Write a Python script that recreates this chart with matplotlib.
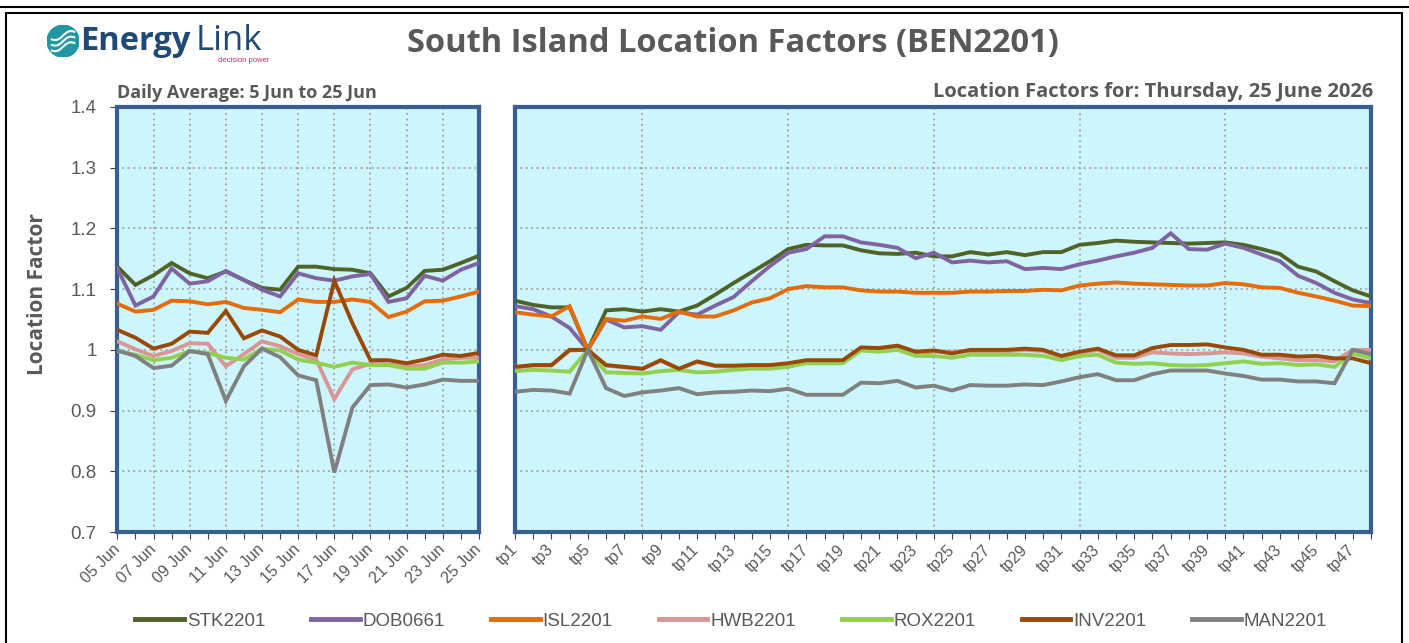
import numpy as np
import matplotlib.pyplot as plt
from matplotlib.lines import Line2D
from matplotlib.patches import Rectangle, Circle

# daily averages, 5 Jun to 25 Jun
days = ['%02d Jun' % d for d in range(5, 26)]
stk_daily = [1.137, 1.107, 1.123, 1.143, 1.126, 1.118, 1.129, 1.115, 1.102, 1.099, 1.137,
             1.137, 1.133, 1.132, 1.126, 1.088, 1.102, 1.130, 1.132, 1.143, 1.155]
dob_daily = [1.134, 1.073, 1.088, 1.134, 1.109, 1.113, 1.130, 1.115, 1.099, 1.088, 1.126,
             1.118, 1.114, 1.121, 1.125, 1.079, 1.085, 1.122, 1.114, 1.132, 1.143]
isl_daily = [1.076, 1.063, 1.066, 1.081, 1.080, 1.075, 1.079, 1.069, 1.066, 1.062, 1.083,
             1.079, 1.079, 1.083, 1.079, 1.054, 1.063, 1.080, 1.081, 1.088, 1.096]
hwb_daily = [1.014, 1.001, 0.990, 0.998, 1.011, 1.010, 0.973, 0.993, 1.014, 1.006, 0.993,
             0.984, 0.919, 0.968, 0.977, 0.976, 0.973, 0.975, 0.984, 0.987, 0.987]
rox_daily = [0.998, 0.992, 0.983, 0.987, 0.998, 0.995, 0.987, 0.984, 1.002, 0.999, 0.984,
             0.979, 0.972, 0.979, 0.975, 0.975, 0.969, 0.969, 0.979, 0.979, 0.981]
inv_daily = [1.033, 1.020, 1.002, 1.010, 1.030, 1.028, 1.064, 1.019, 1.032, 1.022, 1.000,
             0.991, 1.114, 1.044, 0.983, 0.983, 0.978, 0.984, 0.992, 0.990, 0.995]
man_daily = [0.999, 0.990, 0.970, 0.974, 0.998, 0.993, 0.916, 0.973, 1.002, 0.988, 0.958,
             0.950, 0.798, 0.905, 0.942, 0.943, 0.938, 0.943, 0.951, 0.949, 0.949]

# trading periods for 25 June
periods = ['tp%d' % p for p in range(1, 49)]
stk_tp = [1.081, 1.074, 1.070, 1.070, 1.000, 1.065, 1.067, 1.063, 1.067, 1.063, 1.073, 1.091,
          1.110, 1.128, 1.146, 1.166, 1.173, 1.172, 1.172, 1.164, 1.159, 1.158, 1.160, 1.154,
          1.154, 1.161, 1.157, 1.161, 1.156, 1.161, 1.161, 1.173, 1.176, 1.180, 1.178, 1.177,
          1.176, 1.175, 1.176, 1.177, 1.173, 1.166, 1.158, 1.137, 1.129, 1.113, 1.098, 1.088]
dob_tp = [1.072, 1.067, 1.055, 1.036, 1.000, 1.050, 1.037, 1.039, 1.033, 1.062, 1.058, 1.073,
          1.087, 1.113, 1.138, 1.160, 1.166, 1.187, 1.187, 1.177, 1.173, 1.168, 1.151, 1.160,
          1.144, 1.147, 1.144, 1.146, 1.133, 1.135, 1.133, 1.141, 1.147, 1.154, 1.160, 1.168,
          1.192, 1.166, 1.165, 1.175, 1.168, 1.157, 1.146, 1.122, 1.110, 1.094, 1.083, 1.077]
isl_tp = [1.062, 1.058, 1.055, 1.072, 1.000, 1.051, 1.048, 1.055, 1.051, 1.063, 1.055, 1.055,
          1.065, 1.078, 1.085, 1.100, 1.105, 1.103, 1.103, 1.098, 1.096, 1.096, 1.094, 1.094,
          1.094, 1.096, 1.096, 1.097, 1.097, 1.099, 1.098, 1.106, 1.109, 1.111, 1.109, 1.108,
          1.107, 1.106, 1.106, 1.110, 1.108, 1.103, 1.102, 1.094, 1.088, 1.081, 1.073, 1.072]
hwb_tp = [0.971, 0.974, 0.974, 0.999, 1.000, 0.974, 0.971, 0.968, 0.982, 0.968, 0.980, 0.973,
          0.972, 0.973, 0.973, 0.976, 0.981, 0.981, 0.981, 1.002, 1.001, 1.005, 0.995, 0.997,
          0.997, 0.998, 0.998, 0.998, 1.000, 0.998, 0.988, 0.995, 1.000, 0.987, 0.987, 0.996,
          0.994, 0.993, 0.994, 0.996, 0.994, 0.989, 0.986, 0.983, 0.983, 0.981, 1.000, 1.000]
rox_tp = [0.965, 0.967, 0.966, 0.964, 1.000, 0.963, 0.962, 0.961, 0.965, 0.967, 0.963, 0.964,
          0.967, 0.969, 0.969, 0.972, 0.978, 0.978, 0.978, 0.999, 0.997, 1.000, 0.990, 0.990,
          0.987, 0.992, 0.992, 0.992, 0.992, 0.990, 0.983, 0.990, 0.992, 0.979, 0.977, 0.978,
          0.975, 0.974, 0.975, 0.978, 0.981, 0.977, 0.978, 0.975, 0.976, 0.972, 0.994, 0.986]
inv_tp = [0.972, 0.975, 0.975, 1.000, 1.000, 0.975, 0.972, 0.969, 0.983, 0.969, 0.981, 0.974,
          0.974, 0.975, 0.975, 0.978, 0.983, 0.983, 0.983, 1.004, 1.003, 1.007, 0.997, 0.999,
          0.994, 1.000, 1.000, 1.000, 1.002, 1.000, 0.990, 0.997, 1.002, 0.991, 0.991, 1.003,
          1.008, 1.008, 1.009, 1.004, 1.000, 0.992, 0.992, 0.989, 0.990, 0.986, 0.986, 0.978]
man_tp = [0.931, 0.934, 0.933, 0.928, 1.000, 0.937, 0.924, 0.930, 0.933, 0.937, 0.927, 0.930,
          0.931, 0.933, 0.932, 0.936, 0.926, 0.926, 0.926, 0.946, 0.945, 0.949, 0.938, 0.941,
          0.933, 0.942, 0.941, 0.941, 0.943, 0.942, 0.948, 0.955, 0.960, 0.950, 0.950, 0.960,
          0.966, 0.966, 0.966, 0.961, 0.957, 0.951, 0.951, 0.948, 0.948, 0.945, 1.000, 0.993]

nodes = ['STK2201', 'DOB0661', 'ISL2201', 'HWB2201', 'ROX2201', 'INV2201', 'MAN2201']
colors = ['#4F6228', '#8064A2', '#E46C0A', '#D99694', '#92D050', '#984807', '#808080']
daily = [stk_daily, dob_daily, isl_daily, hwb_daily, rox_daily, inv_daily, man_daily]
by_tp = [stk_tp, dob_tp, isl_tp, hwb_tp, rox_tp, inv_tp, man_tp]

txt = '#595959'
bg = '#CCF5FC'
edge = '#3A5F8F'
head = ['Open Sans', 'DejaVu Sans']
plt.rcParams['font.family'] = ['Liberation Sans', 'DejaVu Sans']

fig = plt.figure(figsize=(14.09, 6.43), dpi=100)

# outer frames
fig.patches.append(Rectangle((-0.01, 0.9895), 1.02, 0.05, transform=fig.transFigure,
                             fill=False, ec='black', lw=1.5))
fig.patches.append(Rectangle((0.0045, -0.02), 0.9905, 1.0, transform=fig.transFigure,
                             fill=False, ec='black', lw=1.5))

ax1 = fig.add_axes([0.0833, 0.1726, 0.2566, 0.661])
ax2 = fig.add_axes([0.3655, 0.1726, 0.6075, 0.661])


def style(ax, n, labels, grid_x):
    ax.set_facecolor(bg)
    ax.set_ylim(0.7, 1.4)
    ax.set_yticks(np.arange(0.7, 1.41, 0.1))
    ax.set_xlim(0, n - 1)
    ax.set_xticks(range(n))
    ax.set_xticklabels([l if i % 2 == 0 else '' for i, l in enumerate(labels)],
                       rotation=45, ha='right', va='center', rotation_mode='anchor',
                       fontsize=11.5, color=txt)
    ax.tick_params(axis='x', length=5, color='#404040', pad=6)
    for y in np.arange(0.8, 1.35, 0.1):
        ax.axhline(y, color='#A0A0A0', lw=1.3, ls=(0, (1, 2)), zorder=1)
    for x in grid_x:
        ax.axvline(x, color='#A0A0A0', lw=1.3, ls=(0, (1, 2)), zorder=1)
    for s in ax.spines.values():
        s.set_color(edge)
        s.set_linewidth(3)


style(ax1, len(days), days, range(2, 20, 2))
style(ax2, len(periods), periods, range(7, 47, 8))

ax1.set_yticklabels(['0.7', '0.8', '0.9', '1', '1.1', '1.2', '1.3', '1.4'], fontsize=13.5, color=txt)
ax1.tick_params(axis='y', length=5, color='#404040', pad=10)
ax1.set_ylabel('Location Factor', fontsize=15, fontweight='bold', color=txt, family=head)
ax1.yaxis.set_label_coords(-0.192, 0.56)
ax2.set_yticklabels([])
ax2.tick_params(axis='y', length=0)

for vals, c in zip(daily, colors):
    ax1.plot(range(len(days)), vals, color=c, lw=2.8, solid_joinstyle='miter', zorder=3)
for vals, c in zip(by_tp, colors):
    ax2.plot(range(len(periods)), vals, color=c, lw=2.8, solid_joinstyle='miter', zorder=3)

fig.text(0.520, 0.933, 'South Island Location Factors (BEN2201)', ha='center', va='center',
         fontsize=23.5, fontweight='bold', color=txt, family=head)
ax1.text(0.0, 1.012, 'Daily Average: 5 Jun to 25 Jun', transform=ax1.transAxes,
         fontsize=13, fontweight='bold', color=txt, ha='left', va='bottom', family=head)
ax2.text(1.003, 1.012, 'Location Factors for: Thursday, 25 June 2026', transform=ax2.transAxes,
         fontsize=14.5, fontweight='bold', color=txt, ha='right', va='bottom', family=head)

# logo
logo = fig.add_axes([0.0334, 0.911, 0.0227, 0.05])
logo.set_xlim(-1, 1)
logo.set_ylim(-1, 1)
logo.set_aspect('equal')
logo.axis('off')
logo.add_patch(Circle((0, 0), 1, color='#2396A3'))
t = np.linspace(-0.7, 0.7, 50)
for off in (-0.35, 0.0, 0.35):
    logo.plot(t, off + 0.15 * np.sin(t * 4.2) + 0.3 * t, color='white', lw=1.5)
fig.text(0.057, 0.936, 'Energy', fontsize=23.5, fontweight='bold', color='#1F4A75',
         va='center', family=head)
fig.text(0.139, 0.936, 'Link', fontsize=25, color='#1F4A75', va='center', family=head)
fig.text(0.155, 0.906, 'decision power', fontsize=5.5, color='#C0306A', va='center')

handles = [Line2D([], [], color=c, lw=3.5) for c in colors]
fig.legend(handles, nodes, loc='center', bbox_to_anchor=(0.519, 0.034), ncol=7,
           frameon=False, fontsize=13.5, labelcolor=txt, handlelength=2.6,
           handletextpad=0.15, columnspacing=2.45)

fig.savefig('out.png', dpi=100)
